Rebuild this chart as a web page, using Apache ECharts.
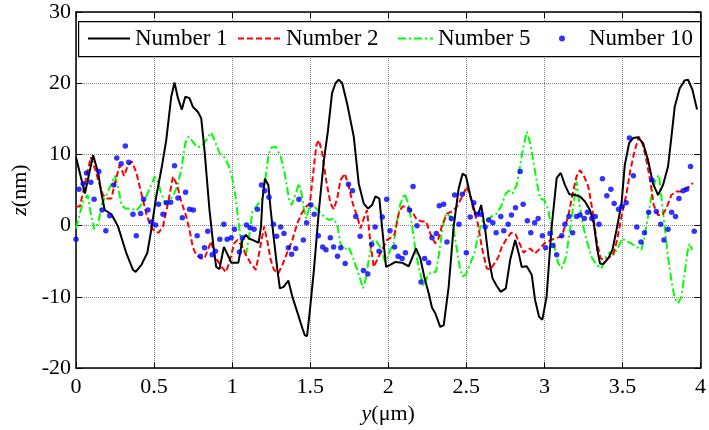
<!DOCTYPE html>
<html>
<head>
<meta charset="utf-8">
<script src="https://cdn.jsdelivr.net/npm/echarts@6/dist/echarts.min.js"></script>
<style>
html,body{margin:0;padding:0;background:#fff;}
#chart{width:709px;height:430px;}
</style>
</head>
<body>
<div id="chart"></div>
<script>
// ---- data ----
var xTicks = [0, 0.5, 1, 1.5, 2, 2.5, 3, 3.5, 4];
var yTicks = [-20, -10, 0, 10, 20, 30];
var seriesNames = ['Number 1', 'Number 2', 'Number 5', 'Number 10'];

var n1X = [0.0,0.057,0.11,0.142,0.163,0.184,0.227,0.269,0.323,0.365,0.382,0.419,0.457,0.482,0.514,0.55,0.578,0.61,0.631,0.653,0.678,0.70,0.727,0.748,0.78,0.802,0.823,0.855,0.883,0.898,0.919,0.947,0.972,0.994,1.04,
1.066,1.088,1.109,1.14,1.17,1.185,1.194,1.21,1.232,1.247,1.268,1.29,1.306,1.33,1.36,1.386,1.417,1.45,1.466,1.48,1.498,1.524,1.556,1.588,1.613,1.64,1.662,1.683,1.705,1.736,1.779,1.811,1.843,1.871,1.896,1.918,1.943,1.96,1.986,2.013,2.045,
2.088,2.131,2.152,2.178,2.206,2.233,2.259,2.28,2.301,2.333,2.355,2.387,2.419,2.451,2.476,2.497,2.525,2.557,2.578,2.595,2.621,2.642,2.668,2.696,2.721,2.753,2.781,2.813,2.838,2.855,2.887,2.919,2.94,2.966,2.987,3.014,3.046,3.079,3.105,3.132,3.16,3.196,3.228,3.26,3.292,3.317,3.339,3.356,3.377,3.409,3.436,3.462,3.494,3.515,3.543,3.568,3.6,3.632,3.664,3.696,3.728,3.76,3.792,3.814,3.835,3.867,3.899,3.92,3.948,3.978];
var n1Y = [9.6,4.5,9.9,7.4,4.5,2.2,1.6,-0.1,-3.9,-6.2,-6.5,-5.5,-3.8,-0.6,4.1,8.3,12.0,18.1,20.1,17.9,16.3,18.1,17.9,16.7,16.0,15.1,10.6,2.2,-3.4,-5.8,-6.1,-3.0,-4.1,-5.2,-5.2,
-2.0,-1.3,-1.8,-2.1,-2.4,-0.1,3.6,6.6,5.7,2.2,-2.0,-6.2,-8.8,-8.6,-7.7,-10.0,-12.1,-14.4,-15.4,-15.5,-11.9,-6.2,2.2,9.2,13.2,18.6,20.0,20.5,20.0,17.2,12.5,5.9,3.1,2.4,2.9,4.1,3.8,-0.1,-5.8,-5.5,-5.1,
-5.2,-5.7,-4.6,-3.2,-4.6,-7.4,-9.5,-11.5,-12.3,-14.2,-14.0,-8.6,-0.1,5.2,7.3,7.0,4.3,1.7,1.7,2.9,-0.6,-4.4,-7.4,-8.5,-9.3,-8.8,-4.8,-2.0,-4.1,-5.8,-5.7,-6.9,-10.4,-12.8,-13.2,-10.0,-0.3,6.7,7.4,5.7,4.4,4.3,4.1,3.4,2.2,0.3,-3.4,-5.3,-5.4,-4.6,-3.4,-0.6,3.1,8.5,11.6,12.3,12.4,11.6,9.2,5.9,4.3,5.7,8.3,12.5,16.7,19.3,20.4,20.5,19.1,16.3];

var n2X = [0.0,0.025,0.057,0.095,0.125,0.142,0.173,0.195,0.227,0.248,0.28,0.308,0.333,0.359,0.387,0.419,0.45,0.478,0.504,0.529,0.557,0.589,0.621,0.648,0.674,0.706,0.727,0.748,0.77,0.802,0.823,0.844,0.866,0.891,0.919,0.94,0.961,0.983,1.013,1.034,1.066,1.088,1.12,1.152,1.177,1.205,1.226,1.247,1.268,1.296,1.322,1.354,1.386,1.417,1.445,1.475,1.498,1.517,1.539,1.556,1.577,1.602,1.63,1.651,1.673,1.694,1.722,1.747,1.773,1.801,1.822,1.843,1.864,1.886,1.907,1.928,1.96,1.992,2.01,2.04,2.07,2.093,2.12,2.152,2.184,2.216,2.242,2.269,2.301,2.322,2.344,2.376,2.408,2.44,2.467,2.504,2.525,2.546,2.574,2.599,2.631,2.653,2.68,2.706,2.727,2.759,2.787,2.813,2.845,2.866,2.887,2.909,2.94,2.972,3.004,3.036,3.068,3.111,3.132,3.153,3.181,3.206,3.228,3.253,3.281,3.308,3.334,3.36,3.387,3.419,3.441,3.466,3.494,3.526,3.551,3.579,3.606,3.632,3.657,3.679,3.7,3.728,3.755,3.781,3.813,3.845,3.877,3.904,3.93,3.951];
var n2Y = [2.7,2.7,5.9,9.6,7.8,6.4,4.3,3.8,3.8,5.9,8.5,7.0,8.5,9.0,7.4,4.5,1.7,-0.1,-0.8,-1.0,-0.1,3.1,6.9,5.7,3.4,1.3,-0.6,-3.0,-4.1,-4.6,-4.6,-3.4,-2.2,-4.4,-5.3,-6.0,-6.5,-5.1,-2.5,-2.0,-3.0,-4.1,-5.3,-6.2,-3.4,-0.1,-2.2,-4.8,-6.2,-6.7,-5.5,-3.7,-2.0,0.3,1.7,2.7,3.1,6.9,11.3,12.0,10.2,6.4,3.1,2.3,3.8,6.4,7.3,5.5,3.1,1.3,-0.4,1.0,2.2,-2.5,-5.8,-4.8,-3.4,-2.0,-1.8,-1.2,2.0,2.7,2.7,2.0,0.8,0.6,0.6,-1.1,-2.5,-1.8,0.0,1.7,2.0,2.7,3.8,5.5,4.1,2.2,0.3,-3.0,-6.0,-6.2,-5.3,-4.4,-3.0,-1.8,-1.0,-1.1,-2.7,-3.8,-3.4,-3.2,-3.9,-3.2,-2.4,-2.1,-1.8,-1.5,-0.1,1.3,4.5,6.9,7.8,7.0,5.5,2.2,-2.0,-4.6,-4.8,-4.4,-4.1,-2.0,1.3,4.5,7.8,10.6,12.5,11.3,8.8,6.2,2.9,1.5,1.5,2.4,4.3,4.8,4.8,5.2,5.5,6.0];

var n5X = [0.0,0.025,0.046,0.074,0.095,0.116,0.142,0.167,0.195,0.223,0.248,0.269,0.291,0.316,0.355,0.387,0.414,0.44,0.472,0.504,0.525,0.546,0.572,0.6,0.621,0.648,0.674,0.7,0.72,0.748,0.776,0.806,0.834,0.866,0.891,0.919,0.951,0.976,0.998,1.019,1.036,1.056,1.088,1.109,1.13,1.162,1.194,1.215,1.232,1.247,1.279,1.311,1.339,1.364,1.381,1.407,1.428,1.445,1.46,1.475,1.498,1.524,1.556,1.588,1.62,1.651,1.673,1.694,1.715,1.747,1.773,1.801,1.822,1.839,1.858,1.875,1.896,1.918,1.949,1.981,2.013,2.035,2.056,2.078,2.105,2.131,2.152,2.174,2.199,2.227,2.255,2.28,2.306,2.327,2.348,2.37,2.397,2.419,2.44,2.461,2.476,2.497,2.525,2.552,2.578,2.603,2.631,2.663,2.695,2.723,2.753,2.774,2.796,2.823,2.845,2.866,2.887,2.909,2.93,2.951,2.972,3.0,3.025,3.046,3.068,3.089,3.111,3.139,3.164,3.185,3.206,3.224,3.245,3.27,3.302,3.334,3.366,3.394,3.419,3.445,3.472,3.5,3.526,3.558,3.59,3.621,3.643,3.664,3.692,3.717,3.734,3.749,3.77,3.792,3.813,3.835,3.856,3.877,3.899,3.916,3.93,3.947];
var n5Y = [-0.4,1.7,3.4,4.3,1.7,-0.5,0.3,3.1,4.3,5.7,7.0,5.5,2.9,2.4,2.4,2.1,2.8,3.6,5.2,6.9,6.2,4.5,3.1,3.6,4.1,5.5,7.8,11.6,12.5,11.8,11.0,11.2,12.0,13.1,11.8,10.2,9.6,8.5,7.0,4.5,1.5,-2.2,-4.1,-1.5,2.0,2.9,3.8,6.9,9.7,10.9,11.1,9.7,7.1,3.8,2.9,4.5,5.9,4.5,2.2,1.0,2.9,2.7,2.0,1.3,0.8,1.0,0.1,-2.5,-3.4,-3.0,-4.4,-6.2,-7.6,-8.8,-7.2,-4.8,-2.2,-2.0,-3.0,-5.1,-3.4,-2.5,0.6,3.1,4.5,2.9,0.1,-3.4,-6.2,-8.5,-6.9,-6.5,-6.5,-3.7,-0.1,1.7,1.3,-0.6,-3.4,-6.2,-7.1,-6.9,-5.3,-3.9,-1.1,0.6,0.8,1.3,1.7,2.7,4.5,4.9,4.5,5.7,8.5,11.1,13.2,11.6,9.0,6.2,3.8,3.6,2.2,-0.4,-3.4,-5.3,-6.0,-4.4,-0.6,2.7,6.2,3.1,0.3,-2.0,-4.4,-5.5,-6.0,-4.4,-3.7,-4.1,-3.0,-1.8,-2.2,-2.5,-3.0,-3.4,-1.5,1.3,5.0,6.7,7.1,4.1,-0.1,-4.4,-7.6,-10.2,-10.9,-10.0,-6.7,-3.7,-2.5,-3.4];

var n10X = [0.0,0.019,0.046,0.067,0.095,0.116,0.146,0.167,0.191,0.216,0.242,0.261,0.289,0.316,0.338,0.365,0.386,0.414,0.433,0.461,0.482,0.51,0.529,0.557,0.578,0.606,0.631,0.653,0.681,0.702,0.727,0.751,0.776,0.797,0.823,0.844,0.872,0.893,0.921,0.947,0.968,0.994,1.015,1.047,
1.066,1.092,1.115,1.141,1.162,1.188,1.209,1.236,1.264,1.285,1.311,1.332,1.36,1.381,1.407,1.428,1.456,1.477,1.505,1.526,1.552,1.58,1.601,1.629,1.65,1.675,1.696,1.724,1.745,1.771,1.792,1.82,1.841,1.869,1.894,1.916,1.941,1.962,1.99,2.011,
2.04,2.063,2.089,2.11,2.136,2.159,2.184,2.21,2.233,2.259,2.28,2.308,2.327,2.355,2.376,2.404,2.425,2.453,2.474,2.5,2.525,2.548,2.572,2.595,2.621,2.644,2.67,2.691,2.721,2.74,2.768,2.789,2.815,2.845,2.864,2.891,2.913,2.938,2.96,2.987,3.008,3.036,3.055,3.079,
3.111,3.132,3.157,3.181,3.206,3.228,3.256,3.276,3.304,3.326,3.35,3.372,3.4,3.426,3.447,3.475,3.496,3.524,3.545,3.57,3.592,3.619,3.641,3.668,3.689,3.717,3.745,3.766,3.792,3.815,3.84,3.862,3.889,3.911,3.936,3.96];
var n10Y = [-1.9,5.1,5.9,7.4,6.1,3.7,7.6,2.2,-0.7,1.4,5.7,9.5,8.7,11.2,8.9,1.6,-1.4,1.7,3.7,2.2,0.5,0.1,3.0,1.6,3.2,3.3,8.4,3.9,1.1,4.7,2.3,2.2,-1.4,-4.3,-3.1,-0.8,-4.1,-3.6,-1.9,0.2,-1.9,-1.7,-0.5,-3.7,
-1.7,0.1,-0.3,-0.5,2.3,5.7,4.9,4.0,0.2,-1.5,-0.2,-1.1,-3.1,-4.0,-3.2,3.7,-2.0,0.4,2.9,1.6,-1.4,-3.0,-3.4,-1.7,-3.0,-4.3,-3.1,-5.3,5.8,4.9,1.3,-1.5,-6.3,-6.8,-2.6,-0.2,-3.6,1.2,3.7,-0.7,
-3.0,-4.3,-4.6,-3.8,2.2,5.5,0.0,-7.9,-4.6,-5.2,-1.7,-1.1,2.8,3.0,-2.3,1.0,4.3,0.2,4.4,-3.8,1.2,3.2,1.6,1.6,-0.2,0.8,0.4,-1.0,1.3,-0.7,0.2,1.5,2.5,7.6,3.0,0.7,-1.0,0.4,1.0,-1.4,-3.1,-1.1,-2.8,-4.1,
-1.4,0.2,1.3,-1.0,1.3,1.5,1.0,1.9,1.0,1.3,0.2,6.6,4.2,5.1,3.1,2.3,2.7,3.2,12.3,7.0,-0.2,-2.3,-1.0,1.9,6.4,2.0,0.2,-2.0,-0.5,1.9,1.3,3.8,4.9,5.1,8.3,-0.8];

function pairs(xs, ys) { return xs.map(function (x, i) { return [x, ys[i]]; }); }

var FONT = 'Liberation Serif';
var chart = echarts.init(document.getElementById('chart'), null, {renderer: 'canvas'});

function legendAt(left, name, w, h, hideSymbol, textPadLeft) {
  var lg = {
    show: true, left: left, top: 27, padding: 0, orient: 'horizontal',
    itemWidth: w, itemHeight: h, itemGap: 0, z: 20,
    data: [name], selectedMode: false,
    textStyle: {fontFamily: FONT, fontSize: 23, color: '#000'}
  };
  if (textPadLeft) {
    lg.data = [{name: name, icon: 'circle'}];
    lg.textStyle.padding = [0, 0, 0, textPadLeft];
  }
  if (hideSymbol) { lg.itemStyle = {opacity: 0, borderWidth: 0}; }
  return lg;
}

var option = {
  backgroundColor: '#fff',
  animation: false,
  textStyle: {fontFamily: FONT},
  grid: {left: 76, right: 7, top: 12, bottom: 61, containLabel: false},
  graphic: [{
    type: 'rect', left: 78, top: 21, z: 15,
    shape: {width: 622, height: 35},
    style: {fill: '#fff', stroke: '#000', lineWidth: 1.2}
  }],
  legend: [
    legendAt(87, seriesNames[0], 42, 14, true),
    legendAt(237, seriesNames[1], 43, 14, true),
    legendAt(397, seriesNames[2], 35, 14, true),
    legendAt(559, seriesNames[3], 6, 6, false, 19)
  ],
  xAxis: [{
    type: 'value', min: xTicks[0], max: xTicks[xTicks.length - 1], interval: 0.5,
    position: 'bottom',
    name: '{i|y}(μm)', nameLocation: 'middle', nameGap: 30,
    nameTextStyle: {fontFamily: FONT, fontSize: 22, color: '#000',
      rich: {i: {fontFamily: FONT, fontSize: 22, fontStyle: 'italic', color: '#000'}}},
    axisLine: {show: true, onZero: false, lineStyle: {color: '#000', width: 1.5}},
    axisTick: {show: true, inside: true, length: 6, lineStyle: {color: '#000', width: 1}},
    axisLabel: {show: true, margin: 8, fontFamily: FONT, fontSize: 22, color: '#000'},
    splitLine: {show: true, lineStyle: {color: '#888', type: 'dotted', width: 1}}
  }, {
    type: 'value', min: xTicks[0], max: xTicks[xTicks.length - 1], interval: 0.5,
    position: 'top',
    axisLine: {show: true, onZero: false, lineStyle: {color: '#000', width: 1.5}},
    axisTick: {show: true, inside: true, length: 6, lineStyle: {color: '#000', width: 1}},
    axisLabel: {show: false}, splitLine: {show: false}
  }],
  yAxis: [{
    type: 'value', min: yTicks[0], max: yTicks[yTicks.length - 1], interval: 10,
    position: 'left',
    name: '{i|z}(nm)', nameLocation: 'middle', nameGap: 44, nameRotate: 90,
    nameTextStyle: {fontFamily: FONT, fontSize: 22, color: '#000',
      rich: {i: {fontFamily: FONT, fontSize: 22, fontStyle: 'italic', color: '#000'}}},
    axisLine: {show: true, onZero: false, lineStyle: {color: '#000', width: 1.5}},
    axisTick: {show: true, inside: true, length: 6, lineStyle: {color: '#000', width: 1}},
    axisLabel: {show: true, margin: 5, fontFamily: FONT, fontSize: 22, color: '#000'},
    splitLine: {show: true, lineStyle: {color: '#888', type: 'dotted', width: 1}}
  }, {
    type: 'value', min: yTicks[0], max: yTicks[yTicks.length - 1], interval: 10,
    position: 'right',
    axisLine: {show: true, onZero: false, lineStyle: {color: '#000', width: 1.5}},
    axisTick: {show: true, inside: true, length: 6, lineStyle: {color: '#000', width: 1}},
    axisLabel: {show: false}, splitLine: {show: false}
  }],
  series: [{
    name: seriesNames[0], type: 'line', symbol: 'none', smooth: false, z: 5,
    data: pairs(n1X, n1Y),
    itemStyle: {color: '#000'},
    lineStyle: {color: '#000', width: 2}
  }, {
    name: seriesNames[1], type: 'line', symbol: 'none', smooth: false, z: 4,
    data: pairs(n2X, n2Y),
    itemStyle: {color: '#ff0000'},
    lineStyle: {color: '#ff0000', width: 2, type: [6, 3]}
  }, {
    name: seriesNames[2], type: 'line', symbol: 'none', smooth: false, z: 3,
    data: pairs(n5X, n5Y),
    itemStyle: {color: '#00ff00'},
    lineStyle: {color: '#00ff00', width: 2, type: [8, 3, 2, 3]}
  }, {
    name: seriesNames[3], type: 'scatter', symbol: 'circle', symbolSize: 5.5, z: 6,
    data: pairs(n10X, n10Y),
    itemStyle: {color: '#0000ff'}
  }]
};
chart.setOption(option);
</script>
</body>
</html>
